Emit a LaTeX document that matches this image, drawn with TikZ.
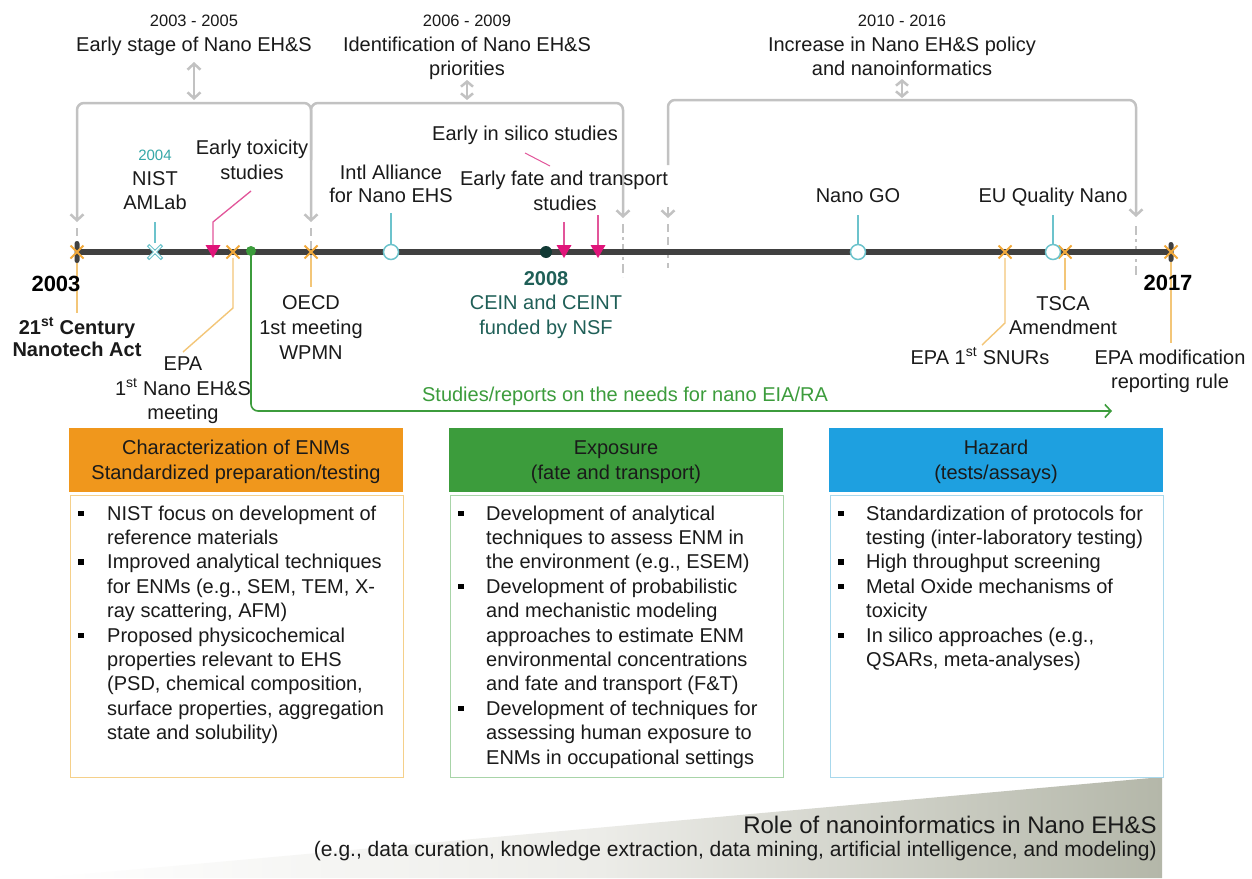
\documentclass[tikz,border=0pt]{standalone}
\usepackage{fontspec}
\setmainfont{Liberation Sans}
\usetikzlibrary{arrows.meta}
\definecolor{tl}{HTML}{404040}
\definecolor{brk}{HTML}{C2C2C2}
\definecolor{orx}{HTML}{F2A93B}
\definecolor{orl}{HTML}{F3C678}
\definecolor{teal1}{HTML}{6CC3CC}
\definecolor{teal2}{HTML}{35A8A8}
\definecolor{mag}{HTML}{E0157A}
\definecolor{magl}{HTML}{E2559A}
\definecolor{dteal}{HTML}{1F5F57}
\definecolor{ddot}{HTML}{123A35}
\definecolor{grn}{HTML}{3C9C3C}
\definecolor{hOr}{HTML}{F0971C}
\definecolor{hGr}{HTML}{3C9C3C}
\definecolor{hBl}{HTML}{1EA0E0}
\definecolor{bOr}{HTML}{F5D08A}
\definecolor{bGr}{HTML}{A8D4A8}
\definecolor{bBl}{HTML}{A8D8EC}
\definecolor{txt}{HTML}{1A1A1A}
\definecolor{wedge}{HTML}{B4B7A9}
\definecolor{wedgemid}{HTML}{ECECE8}
\begin{document}
\begin{tikzpicture}[x=1pt,y=-1pt,
  lbl/.style={font=\fontsize{20}{24}\selectfont, text=txt, inner sep=0pt, anchor=base},
  yrs/.style={font=\fontsize{16.5}{20}\selectfont, text=txt, inner sep=0pt, anchor=base},
  bld/.style={font=\fontsize{20}{24}\selectfont\bfseries, text=txt, inner sep=0pt, anchor=base},
  body/.style={font=\fontsize{20}{24}\selectfont, text=txt, inner sep=0pt, anchor=base west},
  brack/.style={draw=brk, line width=2.5pt, rounded corners=7pt},
  barb/.style={-{Straight Barb[length=6pt,width=13pt]}},
  dsh/.style={draw=brk, line width=2pt, dash pattern=on 8pt off 5pt},
  orline/.style={draw=orl, line width=1.4pt},
  tstem/.style={draw=teal1, line width=1.5pt},
  tcirc/.style={circle, draw=teal1, fill=white, line width=1.5pt, minimum size=15pt, inner sep=0pt},
  hdr/.style={minimum width=334pt, minimum height=64pt, inner sep=0pt, anchor=north west},
  bodybox/.style={fill=white, line width=1.8pt, minimum width=333pt, minimum height=282pt, inner sep=0pt, anchor=north west}
]
\useasboundingbox (0,0) rectangle (1252,878);
\fill[white] (0,0) rectangle (1252,878);

% ---------- bottom wedge ----------
\shade[left color=white, right color=wedge, middle color=wedgemid] (40,878) -- (1162,777) -- (1162,878) -- cycle;
\node[font=\fontsize{24}{28}\selectfont, text=txt, inner sep=0pt, anchor=base east] (role) at (1157,833) {Role of nanoinformatics in Nano EH\&S};
\node[font=\fontsize{21}{24}\selectfont, text=txt, inner sep=0pt, anchor=base east] (roleeg) at (1157,856) {(e.g., data curation, knowledge extraction, data mining, artificial intelligence, and modeling)};

% ---------- top labels ----------
\node[yrs] (yr1) at (194,26) {2003 - 2005};
\node[lbl] (ph1) at (194,51) {Early stage of Nano EH\&S};
\node[yrs] (yr2) at (467,26) {2006 - 2009};
\node[lbl] (ph2a) at (467,51) {Identification of Nano EH\&S};
\node[lbl] (ph2b) at (467,75) {priorities};
\node[yrs] (yr3) at (902,26) {2010 - 2016};
\node[lbl] (ph3a) at (902,51) {Increase in Nano EH\&S policy};
\node[lbl] (ph3b) at (902,75) {and nanoinformatics};

% ---------- brackets ----------
\coordinate (p1a) at (194,62);  \coordinate (p1b) at (194,100);
\coordinate (p2a) at (467,80);  \coordinate (p2b) at (467,100);
\coordinate (p3a) at (902,79);  \coordinate (p3b) at (902,98);
\draw[draw=brk, line width=2.5pt, {Straight Barb[length=6pt,width=13pt]}-{Straight Barb[length=6pt,width=13pt]}] (p1a) -- (p1b);
\draw[draw=brk, line width=2.5pt, {Straight Barb[length=5pt,width=12pt]}-{Straight Barb[length=5pt,width=12pt]}] (p2a) -- (p2b);
\draw[draw=brk, line width=2.5pt, {Straight Barb[length=5pt,width=12pt]}-{Straight Barb[length=5pt,width=12pt]}] (p3a) -- (p3b);

\draw[brack, {Straight Barb[length=6pt,width=13pt]}-{Straight Barb[length=6pt,width=13pt]}] (77,222) -- (77,103) -- (311,103) -- (311,222);
\draw[brack, barb] (311,160) -- (311,103) -- (623,103) -- (623,218);
\draw[brack, barb] (668,165) -- (668,100) -- (1136,100) -- (1136,217);
\draw[draw=brk, line width=2.5pt, barb] (668,207) -- (668,218);

% dashed continuation lines
\draw[dsh] (77,228) -- (77,240);
\draw[dsh] (311,228) -- (311,284);
\draw[draw=brk, line width=2pt, dash pattern=on 9pt off 4pt on 3pt off 4pt] (623,224) -- (623,277);
\draw[dsh] (668,224) -- (668,268);
\draw[draw=brk, line width=2pt, dash pattern=on 9pt off 4pt on 3pt off 4pt] (1136,226) -- (1136,277);

% ---------- timeline ----------
\coordinate (t0) at (77,252);
\coordinate (t1) at (1172,252);
\draw[tl, line width=5.5pt] (t0) -- (t1);

% markers coordinates
\coordinate (m2003) at (77,252);
\coordinate (mnist) at (155,252);
\coordinate (mtox) at (213,252);
\coordinate (mepa) at (233,252);
\coordinate (mgrn) at (251,251);
\coordinate (moecd) at (311,252);
\coordinate (m2008) at (546,252);
\coordinate (mfate1) at (564,252);
\coordinate (mfate2) at (598,252);
\coordinate (msnur) at (1005,252);
\coordinate (mtsca) at (1065,252);
\coordinate (m2017) at (1171,252);

% orange leader lines
\draw[orline] (77,258) -- (77,313);
\draw[orline] (233,258) -- (233,308) -- (183,352);
\draw[orline] (311,258) -- (311,287);
\draw[orline] (1005,258) -- (1005,323) -- (982,345);
\draw[orline] (1065,258) -- (1065,290);
\draw[orline] (1171,262) -- (1171,343);

% capsules 2003 / 2017
\fill[tl, rounded corners=2.5pt] (74.5,241) rectangle (79.5,263);
\fill[tl, rounded corners=2.5pt] (1168.5,242) rectangle (1173.5,262);

% orange crosses
\foreach \c in {m2003,mepa,moecd,msnur,mtsca,m2017}
  \draw[orx, line width=1.8pt] ([shift={(-6.5,-6.5)}]\c) -- ([shift={(6.5,6.5)}]\c) ([shift={(-6.5,6.5)}]\c) -- ([shift={(6.5,-6.5)}]\c);

% NIST teal cross (outlined)
\draw[tstem] (155,222) -- (155,243);
\draw[teal1, line width=3.2pt] ([shift={(-7,-7)}]mnist) -- ([shift={(7,7)}]mnist) ([shift={(-7,7)}]mnist) -- ([shift={(7,-7)}]mnist);
\draw[white, line width=1.1pt] ([shift={(-6,-6)}]mnist) -- ([shift={(6,6)}]mnist) ([shift={(-6,6)}]mnist) -- ([shift={(6,-6)}]mnist);

% teal circles
\node[tcirc] (cintl) at (391,252) {};
\node[tcirc] (cgo) at (858,252) {};
\node[tcirc] (ceu) at (1053,252) {};
\coordinate (sintl) at (391,213);
\coordinate (sgo) at (858,215);
\coordinate (seu) at (1053,215);
\draw[tstem] (sintl) -- (cintl.north);
\draw[tstem] (sgo) -- (cgo.north);
\draw[tstem] (seu) -- (ceu.north);

% magenta triangles and leaders
\foreach \c in {mtox,mfate1,mfate2}
  \fill[mag] ([shift={(-7.5,-7)}]\c) -- ([shift={(7.5,-7)}]\c) -- ([shift={(0,6)}]\c) -- cycle;
\draw[magl, line width=1.3pt] (213,245) -- (213,222) -- (251,191);
\draw[magl, line width=1.3pt] (564,222) -- (564,245);
\draw[magl, line width=1.3pt] (598,215) -- (598,245);
\draw[magl, line width=1pt] (525,153) -- (550,166);

% 2008 dot
\fill[ddot] (m2008) circle (6pt);

% green dot and arrow
\fill[grn] (mgrn) circle (5pt);
\coordinate (gend) at (1112,411);
\draw[grn, line width=1.6pt, rounded corners=7pt, -{Straight Barb[length=6pt,width=13pt]}] (mgrn) -- (251,411) -- (gend);
\node[font=\fontsize{20}{24}\selectfont, text=grn, inner sep=0pt, anchor=base] (studies) at (625,401) {Studies/reports on the needs for nano EIA/RA};

% ---------- timeline labels ----------
\node[font=\fontsize{15}{18}\selectfont, text=teal2, inner sep=0pt, anchor=base] (y2004) at (155,160) {2004};
\node[lbl] (nist1) at (155,185) {NIST};
\node[lbl] (nist2) at (155,209) {AMLab};
\node[lbl] (tox1) at (252,154) {Early toxicity};
\node[lbl] (tox2) at (252,179) {studies};
\node[lbl] (intl1) at (391,179) {Intl Alliance};
\node[lbl] (intl2) at (391,202) {for Nano EHS};
\node[lbl] (silico) at (525,140) {Early in silico studies};
\node[lbl] (fate1) at (564,185) {Early fate and transport};
\node[lbl] (fate2) at (565,210) {studies};
\node[lbl] (go) at (858,202) {Nano GO};
\node[lbl] (euq) at (1053,202) {EU Quality Nano};

\node[font=\fontsize{22}{26}\selectfont\bfseries, text=black, inner sep=0pt, anchor=base] (y2003) at (56,291) {2003};
\node[bld] (act1) at (77,334) {21\textsuperscript{st} Century};
\node[bld] (act2) at (77,356) {Nanotech Act};
\node[lbl] (epa1) at (183,370) {EPA};
\node[lbl] (epa2) at (183,395) {1\textsuperscript{st} Nano EH\&S};
\node[lbl] (epa3) at (183,419) {meeting};
\node[lbl] (oecd1) at (311,309) {OECD};
\node[lbl] (oecd2) at (311,334) {1st meeting};
\node[lbl] (oecd3) at (311,359) {WPMN};
\node[font=\fontsize{20}{24}\selectfont\bfseries, text=dteal, inner sep=0pt, anchor=base] (y2008) at (546,285) {2008};
\node[font=\fontsize{20}{24}\selectfont, text=dteal, inner sep=0pt, anchor=base] (cein1) at (546,309) {CEIN and CEINT};
\node[font=\fontsize{20}{24}\selectfont, text=dteal, inner sep=0pt, anchor=base] (cein2) at (546,334) {funded by NSF};
\node[lbl] (snur) at (980,364) {EPA 1\textsuperscript{st} SNURs};
\node[lbl] (tsca1) at (1063,310) {TSCA};
\node[lbl] (tsca2) at (1063,334) {Amendment};
\node[font=\fontsize{22}{26}\selectfont\bfseries, text=black, inner sep=0pt, anchor=base] (y2017) at (1168,290) {2017};
\node[lbl] (mod1) at (1170,364) {EPA modification};
\node[lbl] (mod2) at (1170,388) {reporting rule};

% ---------- boxes ----------
\node[hdr, fill=hOr] (h1) at (69,428) {};
\node[hdr, fill=hGr] (h2) at (449,428) {};
\node[hdr, fill=hBl] (h3) at (829,428) {};
\node[lbl] (h1a) at (236,454) {Characterization of ENMs};
\node[lbl] (h1b) at (236,479) {Standardized preparation/testing};
\node[lbl] (h2a) at (616,454) {Exposure};
\node[lbl] (h2b) at (616,479) {(fate and transport)};
\node[lbl] (h3a) at (996,454) {Hazard};
\node[lbl] (h3b) at (996,479) {(tests/assays)};

\node[bodybox, draw=bOr] (b1) at (69.5,494.5) {};
\node[bodybox, draw=bGr] (b2) at (449.5,494.5) {};
\node[bodybox, draw=bBl] (b3) at (829.5,494.5) {};

\foreach \t [count=\i] in {{NIST focus on development of},{reference materials},{Improved analytical techniques},{for ENMs (e.g., SEM, TEM, X-},{ray scattering, AFM)},{Proposed physicochemical},{properties relevant to EHS},{(PSD, chemical composition,},{surface properties, aggregation},{state and solubility)}}
  \node[body] (ba\i) at (107,{520+24.4*(\i-1)}) {\t};
\foreach \i in {1,3,6}
  \fill[black] (78,{510.5+24.4*(\i-1)}) rectangle ++(5.5,5.5);

\foreach \t [count=\i] in {{Development of analytical},{techniques to assess ENM in},{the environment (e.g., ESEM)},{Development of probabilistic},{and mechanistic modeling},{approaches to estimate ENM},{environmental concentrations},{and fate and transport (F\&T)},{Development of techniques for},{assessing human exposure to},{ENMs in occupational settings}}
  \node[body] (bb\i) at (486,{520+24.4*(\i-1)}) {\t};
\foreach \i in {1,4,9}
  \fill[black] (458,{510.5+24.4*(\i-1)}) rectangle ++(5.5,5.5);

\foreach \t [count=\i] in {{Standardization of protocols for},{testing (inter-laboratory testing)},{High throughput screening},{Metal Oxide mechanisms of},{toxicity},{In silico approaches (e.g.,},{QSARs, meta-analyses)}}
  \node[body] (bc\i) at (866,{520+24.4*(\i-1)}) {\t};
\foreach \i in {1,3,4,6}
  \fill[black] (838,{510.5+24.4*(\i-1)}) rectangle ++(5.5,5.5);

\end{tikzpicture}
\end{document}
